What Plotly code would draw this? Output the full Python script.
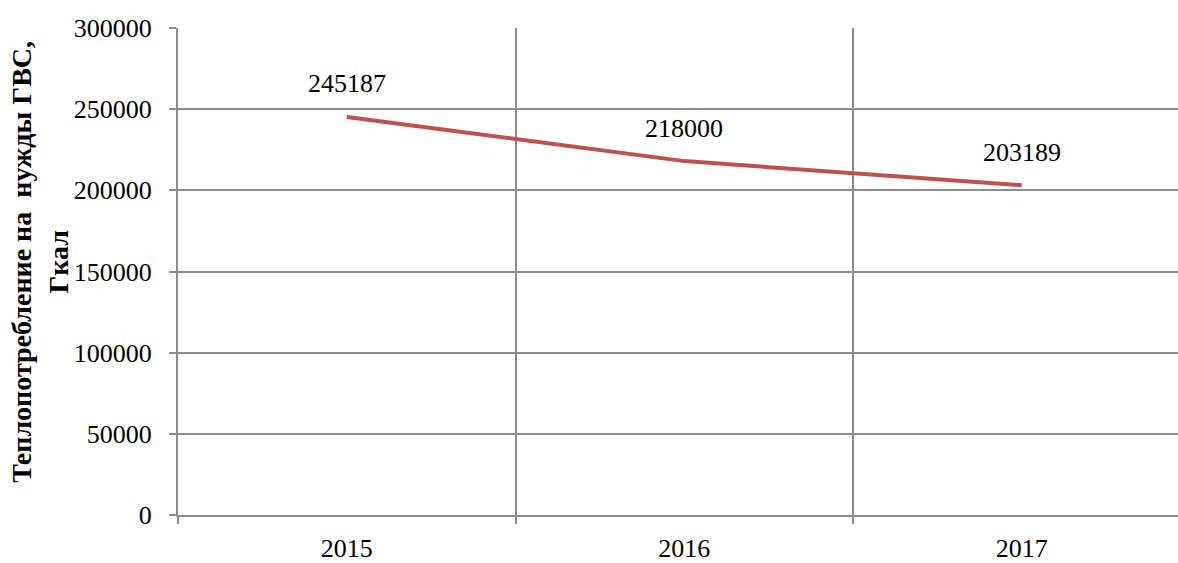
import plotly.graph_objects as go

years = ["2015", "2016", "2017"]
values = [245187, 218000, 203189]
y_ticks = [0, 50000, 100000, 150000, 200000, 250000, 300000]
y_title = "Теплопотребление на  нужды ГВС,<br>Гкал"

xs = list(range(len(years)))
font = "Liberation Serif"
grid = "#8c8c8c"
fs = 26

fig = go.Figure()
fig.add_trace(go.Scatter(x=xs, y=values, mode="lines",
                         line=dict(color="#C0504D", width=4), showlegend=False))
fig.add_trace(go.Scatter(x=[xs[0]], y=[values[0]], xaxis="x2", mode="markers",
                         marker=dict(opacity=0), showlegend=False, hoverinfo="skip"))

for x, v in zip(xs, values):
    fig.add_annotation(x=x, y=v, text=str(v), showarrow=False, yshift=33,
                       font=dict(family=font, size=fs, color="black"))

fig.add_annotation(xref="paper", yref="paper", x=-0.138, y=0.52, xanchor="center",
                   yanchor="middle", textangle=-90, showarrow=False,
                   text="<b>" + y_title + "</b>",
                   font=dict(family=font, size=28, color="black"))

xr = [-0.5, 2.463]
fig.update_layout(
    width=1178, height=563,
    margin=dict(l=178, r=0, t=28, b=42),
    paper_bgcolor="white", plot_bgcolor="white",
    font=dict(family=font, size=fs, color="black"),
    xaxis=dict(range=xr, tickvals=xs, ticktext=years, showgrid=False,
               ticks="outside", ticklen=9, tickcolor="rgba(0,0,0,0)",
               zeroline=False, showline=True, linecolor=grid, linewidth=2),
    xaxis2=dict(range=xr, overlaying="x", side="bottom", anchor="y",
                tickvals=[-0.5, 0.5, 1.5, 2.5], showticklabels=False,
                showgrid=True, gridcolor=grid, gridwidth=2,
                ticks="outside", ticklen=8, tickwidth=2, tickcolor=grid,
                zeroline=False, showline=False),
    yaxis=dict(range=[0, 300000], tickvals=y_ticks, ticktext=[str(t) for t in y_ticks],
               showgrid=True, gridcolor=grid,
               gridwidth=2, ticks="outside", ticklen=7, tickwidth=2, tickcolor=grid,
               showline=True, linecolor=grid, linewidth=2, zeroline=False,
               ticklabelstandoff=12, automargin=False),
)
fig.write_html("out.html", config={"displayModeBar": False},
               post_script="document.body.style.margin='0';document.body.style.overflow='hidden';")
